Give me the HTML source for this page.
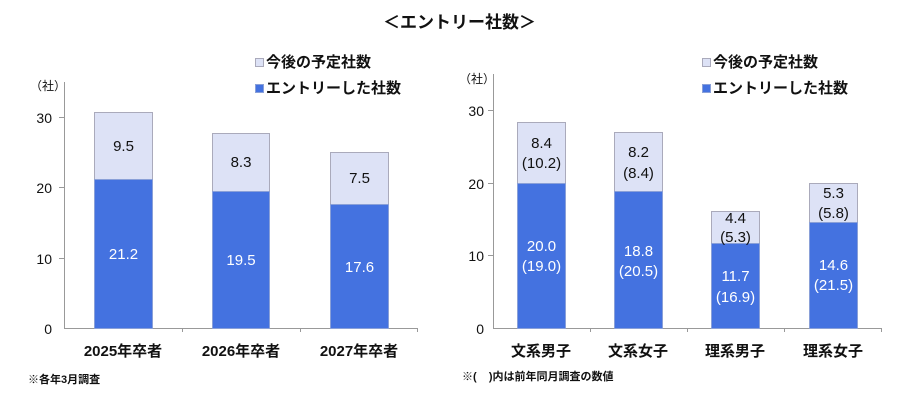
<!DOCTYPE html>
<html><head><meta charset="utf-8"><style>
body{margin:0;width:919px;height:400px;background:#fff;position:relative;overflow:hidden;font-family:"Liberation Sans","Noto Sans CJK JP",sans-serif;color:#111}
div{position:absolute;box-sizing:border-box}
.ax{background:#999}
.t{font-size:14px;text-align:right;width:30px}
.b{background:#4472e0;border:1px solid #8aa0d8}
.l{background:#dde2f6;border:1px solid #aab}
.v{font-size:15px;text-align:center;line-height:17px}
.w{color:#fff}
.c{font-size:15px;text-align:center;font-weight:bold;width:120px}
.sq{width:9px;height:9px}
.lg{font-size:15px;font-weight:bold}
</style></head><body>
<div style="left:0;width:919px;top:8px;text-align:center;font-size:17px;font-weight:bold">＜エントリー社数＞</div>

<div style="left:30px;top:77px;font-size:12px">（社）</div>
<div class="ax" style="left:64px;top:82px;width:1px;height:247px"></div>
<div class="ax" style="left:64px;top:328px;width:354px;height:1px"></div>
<div class="ax" style="left:182px;top:328px;width:1px;height:4px"></div>
<div class="ax" style="left:300px;top:328px;width:1px;height:4px"></div>
<div class="ax" style="left:417px;top:328px;width:1px;height:4px"></div>
<div class="ax" style="left:59px;top:117px;width:5px;height:1px"></div>
<div class="ax" style="left:59px;top:187px;width:5px;height:1px"></div>
<div class="ax" style="left:59px;top:258px;width:5px;height:1px"></div>
<div class="t" style="left:22px;top:110px">30</div>
<div class="t" style="left:22px;top:180px">20</div>
<div class="t" style="left:22px;top:251px">10</div>
<div class="t" style="left:22px;top:321px">0</div>

<div class="l" style="left:94px;top:112px;width:59px;height:68px"></div>
<div class="b" style="left:94px;top:179px;width:59px;height:150px"></div>
<div class="v" style="left:94px;top:138px;width:59px">9.5</div>
<div class="v w" style="left:94px;top:246px;width:59px">21.2</div>
<div class="l" style="left:212px;top:133px;width:58px;height:59px"></div>
<div class="b" style="left:212px;top:191px;width:58px;height:138px"></div>
<div class="v" style="left:212px;top:154px;width:58px">8.3</div>
<div class="v w" style="left:212px;top:252px;width:58px">19.5</div>
<div class="l" style="left:330px;top:152px;width:59px;height:53px"></div>
<div class="b" style="left:330px;top:204px;width:59px;height:125px"></div>
<div class="v" style="left:330px;top:170px;width:59px">7.5</div>
<div class="v w" style="left:330px;top:259px;width:59px">17.6</div>
<div class="c" style="left:63px;top:340px">2025年卒者</div>
<div class="c" style="left:181px;top:340px">2026年卒者</div>
<div class="c" style="left:299px;top:340px">2027年卒者</div>
<div style="left:28px;top:371px;font-size:11px;font-weight:bold">※各年3月調査</div>

<div class="sq l" style="left:255px;top:58px"></div>
<div class="lg" style="left:266px;top:51px">今後の予定社数</div>
<div class="sq b" style="left:255px;top:84px"></div>
<div class="lg" style="left:266px;top:77px">エントリーした社数</div>

<div style="left:459px;top:70px;font-size:12px">（社）</div>
<div class="ax" style="left:493px;top:74px;width:1px;height:255px"></div>
<div class="ax" style="left:493px;top:328px;width:389px;height:1px"></div>
<div class="ax" style="left:590px;top:328px;width:1px;height:4px"></div>
<div class="ax" style="left:687px;top:328px;width:1px;height:4px"></div>
<div class="ax" style="left:784px;top:328px;width:1px;height:4px"></div>
<div class="ax" style="left:881px;top:328px;width:1px;height:4px"></div>
<div class="ax" style="left:488px;top:110px;width:5px;height:1px"></div>
<div class="ax" style="left:488px;top:183px;width:5px;height:1px"></div>
<div class="ax" style="left:488px;top:255px;width:5px;height:1px"></div>
<div class="t" style="left:454px;top:103px">30</div>
<div class="t" style="left:454px;top:176px">20</div>
<div class="t" style="left:454px;top:248px">10</div>
<div class="t" style="left:454px;top:321px">0</div>

<div class="l" style="left:517px;top:122px;width:49px;height:62px"></div>
<div class="b" style="left:517px;top:183px;width:49px;height:146px"></div>
<div class="v" style="left:517px;top:135px;width:49px">8.4</div>
<div class="v" style="left:512px;top:155px;width:59px">(10.2)</div>
<div class="v w" style="left:517px;top:238px;width:49px">20.0</div>
<div class="v w" style="left:512px;top:258px;width:59px">(19.0)</div>

<div class="l" style="left:614px;top:132px;width:49px;height:60px"></div>
<div class="b" style="left:614px;top:191px;width:49px;height:138px"></div>
<div class="v" style="left:614px;top:144px;width:49px">8.2</div>
<div class="v" style="left:609px;top:165px;width:59px">(8.4)</div>
<div class="v w" style="left:614px;top:243px;width:49px">18.8</div>
<div class="v w" style="left:609px;top:263px;width:59px">(20.5)</div>

<div class="l" style="left:711px;top:211px;width:49px;height:33px"></div>
<div class="b" style="left:711px;top:243px;width:49px;height:86px"></div>
<div class="v" style="left:711px;top:210px;width:49px">4.4</div>
<div class="v" style="left:706px;top:229px;width:59px">(5.3)</div>
<div class="v w" style="left:711px;top:268px;width:49px">11.7</div>
<div class="v w" style="left:706px;top:289px;width:59px">(16.9)</div>

<div class="l" style="left:809px;top:183px;width:49px;height:40px"></div>
<div class="b" style="left:809px;top:222px;width:49px;height:107px"></div>
<div class="v" style="left:809px;top:185px;width:49px">5.3</div>
<div class="v" style="left:804px;top:205px;width:59px">(5.8)</div>
<div class="v w" style="left:809px;top:257px;width:49px">14.6</div>
<div class="v w" style="left:804px;top:277px;width:59px">(21.5)</div>

<div class="c" style="left:481px;top:340px">文系男子</div>
<div class="c" style="left:578px;top:340px">文系女子</div>
<div class="c" style="left:675px;top:340px">理系男子</div>
<div class="c" style="left:773px;top:340px">理系女子</div>
<div style="left:462px;top:368px;font-size:11px;font-weight:bold">※(&nbsp;&nbsp;&nbsp;&nbsp;)内は前年同月調査の数値</div>

<div class="sq l" style="left:702px;top:58px"></div>
<div class="lg" style="left:713px;top:51px">今後の予定社数</div>
<div class="sq b" style="left:702px;top:84px"></div>
<div class="lg" style="left:713px;top:77px">エントリーした社数</div>
</body></html>
